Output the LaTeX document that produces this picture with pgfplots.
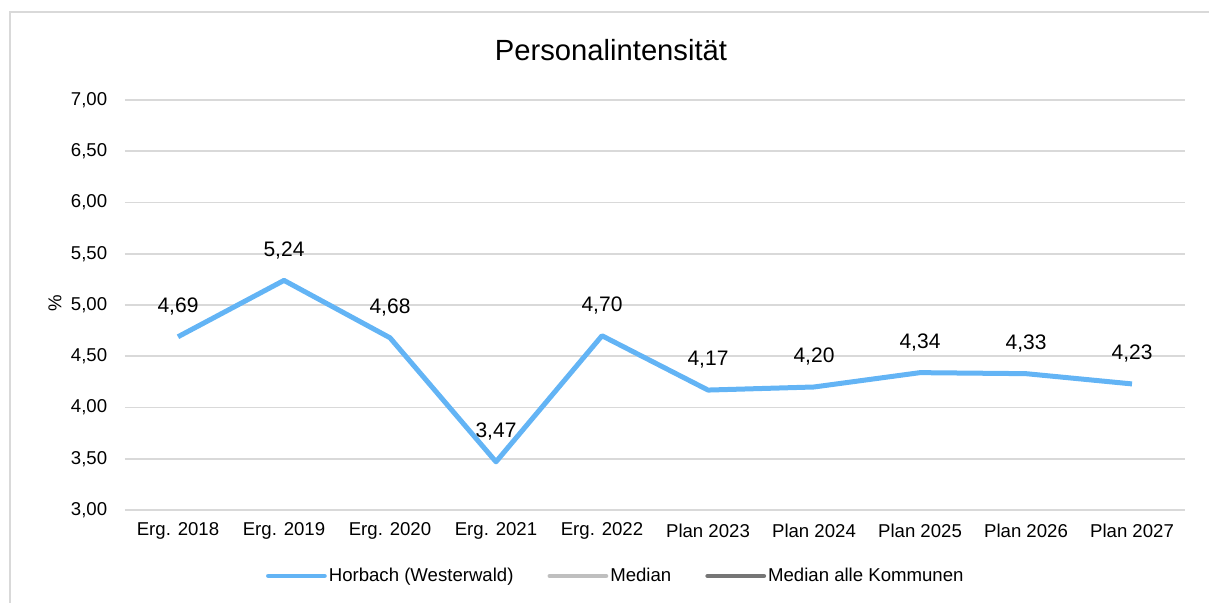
\documentclass[border=0pt]{standalone}
\usepackage{fontspec}
\setmainfont{Liberation Sans}
\usepackage{pgfplots}
\pgfplotsset{compat=1.18}
\definecolor{horbach}{HTML}{63B4F5}
\definecolor{median}{HTML}{BFBFBF}
\definecolor{medianall}{HTML}{767676}
\definecolor{gridgray}{HTML}{D9D9D9}

\pgfplotstableread{
x y
0 4.69
1 5.24
2 4.68
3 3.47
4 4.70
5 4.17
6 4.20
7 4.34
8 4.33
9 4.23
}\personal

\begin{document}
\begin{tikzpicture}
\useasboundingbox (-62.5pt,-46.5pt) rectangle (542pt,255pt);
\begin{scope}
  \clip (-62.5pt,-46.5pt) rectangle (542pt,255pt);
  \draw[gridgray, line width=0.8pt] (-57.5pt,-60pt) rectangle (543.5pt,249pt);
\end{scope}
\node[font=\fontsize{14.6}{17}\selectfont] at (243pt,230pt) {Personalintensität};
\node[rotate=90, font=\fontsize{9.3}{11}\selectfont] at (-35pt,103.5pt) {\%};
\begin{axis}[
    at={(0,0)}, anchor=south west,
    scale only axis,
    width=530pt, height=205pt,
    xmin=-0.5, xmax=9.5,
    ymin=3, ymax=7,
    axis line style={draw=none},
    tick style={draw=none},
    ymajorgrids,
    major grid style={gridgray, line width=0.85pt},
    xtick={0,...,9},
    xticklabels={Erg. 2018, Erg. 2019, Erg. 2020, Erg. 2021, Erg. 2022,
                 Plan 2023, Plan 2024, Plan 2025, Plan 2026, Plan 2027},
    ytick={3,3.5,4,4.5,5,5.5,6,6.5,7},
    tick label style={font=\fontsize{9.3}{11}\selectfont, black},
    xticklabel style={anchor=center, yshift=-10.5pt},
    yticklabel style={anchor=east, xshift=-5.4pt,
        /pgf/number format/.cd, fixed, fixed zerofill, precision=2, use comma, assume math mode=true},
    legend style={at={(axis description cs:0.463,-0.161)}, anchor=center, draw=none,
        font=\fontsize{9.3}{11}\selectfont, legend columns=3,
        nodes={inner sep=1pt},
        /tikz/every even column/.append style={column sep=16pt}},
    legend image code/.code={\draw[#1, line width=2.4pt, line cap=round] (0pt,0pt) -- (28pt,0pt);},
]
\addplot[horbach, line width=2.5pt, line join=round,
    nodes near coords, point meta=y,
    nodes near coords style={text=black, font=\fontsize{10.5}{12}\selectfont,
        anchor=center, yshift=15pt,
        /pgf/number format/.cd, fixed, fixed zerofill, precision=2, use comma, assume math mode=true}]
    table[x=x, y=y] {\personal};
\addlegendentry{Horbach (Westerwald)}
\addlegendimage{median}
\addlegendentry{Median}
\addlegendimage{medianall}
\addlegendentry{Median alle Kommunen}
\end{axis}
\end{tikzpicture}
\end{document}
